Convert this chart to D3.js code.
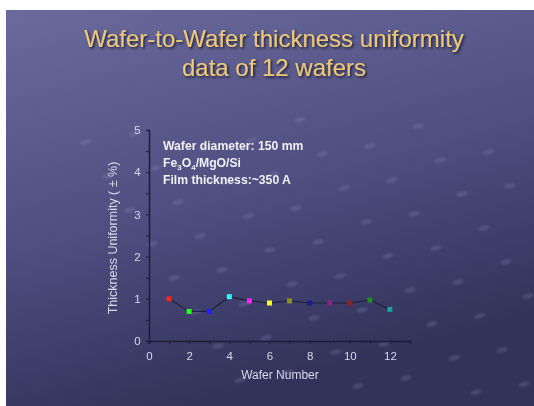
<!DOCTYPE html>
<meta charset="utf-8"/>
<title>Wafer-to-Wafer thickness uniformity</title>
<script src="https://d3js.org/d3.v7.min.js"></script>
<style>
  body { margin: 0; background: #fff; }
  svg { display: block; font-family: Arial, 'Liberation Sans', sans-serif; }
</style>
<svg width="534" height="406"></svg>
<script>
  // data
  const wafers = [1, 2, 3, 4, 5, 6, 7, 8, 9, 10, 11, 12];
  const uniformity = [1.0, 0.7, 0.7, 1.05, 0.95, 0.9, 0.95, 0.9, 0.9, 0.9, 0.97, 0.75];
  const markerColors = ['#ff2020', '#20ff20', '#2020ff', '#20ffff', '#ff20ff', '#ffff20',
                        '#909020', '#1a1a90', '#902090', '#902020', '#209020', '#20a0a0'];
  const xTicks = [0, 2, 4, 6, 8, 10, 12];
  const yTicks = [0, 1, 2, 3, 4, 5];
  const titleLines = ['Wafer-to-Wafer thickness uniformity', 'data of 12 wafers'];

  const svg = d3.select('svg');
  const defs = svg.append('defs');

  const bg = defs.append('linearGradient').attr('id', 'bg')
    .attr('x1', 0).attr('y1', 0).attr('x2', 0.35).attr('y2', 1);
  bg.append('stop').attr('offset', '0%').attr('stop-color', '#6a6a9c');
  bg.append('stop').attr('offset', '55%').attr('stop-color', '#4e4e80');
  bg.append('stop').attr('offset', '100%').attr('stop-color', '#32325a');

  const blur = defs.append('filter').attr('id', 'soft');
  blur.append('feGaussianBlur').attr('stdDeviation', 1.3);
  const glow = defs.append('filter').attr('id', 'glow');
  glow.append('feGaussianBlur').attr('stdDeviation', 0.6);
  const shadow = defs.append('filter').attr('id', 'shadow');
  shadow.append('feDropShadow').attr('dx', 1.5).attr('dy', 1.5)
    .attr('stdDeviation', 0.8).attr('flood-color', '#151530').attr('flood-opacity', 0.9);

  // slide background
  svg.append('rect').attr('x', 6).attr('y', 10).attr('width', 528).attr('height', 396)
    .attr('fill', 'url(#bg)');

  // faint droplets in diagonal rows
  const drops = svg.append('g').attr('filter', 'url(#soft)');
  for (let r = -6; r < 14; r++) {
    for (let c = 0; c < 12; c++) {
      const x = 20 + c * 48 + r * 22;
      const y = 40 + r * 34 - c * 14 + (c % 2) * 6;
      if (x < 10 || x > 530 || y < 120 || y > 402) continue;
      drops.append('ellipse').attr('cx', x).attr('cy', y).attr('rx', 6).attr('ry', 2.5)
        .attr('transform', `rotate(-12,${x},${y})`)
        .attr('fill', '#9a9ac8').attr('opacity', 0.22);
    }
  }

  // title
  svg.append('g').selectAll('text').data(titleLines).join('text')
    .attr('x', 274).attr('y', (d, i) => 47 + i * 29)
    .attr('text-anchor', 'middle')
    .attr('font-size', 24)
    .attr('fill', '#ecc878')
    .attr('filter', 'url(#shadow)')
    .text(d => d);

  const x = d3.scaleLinear().domain([0, 13]).range([149, 410]);
  const y = d3.scaleLinear().domain([0, 5]).range([341, 130]);

  const axisColor = '#1c1c3a';
  const labelColor = '#d8d8e8';

  const xAxis = svg.append('g').attr('transform', `translate(0,${y(0)})`)
    .call(d3.axisBottom(x).tickValues(d3.range(0, 14)).tickSize(3)
      .tickFormat(d => xTicks.includes(d) ? d : ''));
  const yAxis = svg.append('g').attr('transform', `translate(${x(0)},0)`)
    .call(d3.axisLeft(y).tickValues(d3.range(0, 5.01, 0.5)).tickSize(3)
      .tickFormat(d => yTicks.includes(d) ? d : ''));
  [xAxis, yAxis].forEach(g => {
    g.select('.domain').attr('stroke', axisColor).attr('stroke-width', 1.5);
    g.selectAll('.tick line').attr('stroke', axisColor);
    g.selectAll('.tick text').attr('fill', labelColor).attr('font-size', 11.5)
      .attr('font-family', 'Arial, Liberation Sans, sans-serif');
  });
  xAxis.selectAll('.tick text').attr('dy', '1.1em');
  yAxis.selectAll('.tick text').attr('dx', '-0.2em');

  // axis titles
  svg.append('text').attr('x', 280).attr('y', 379).attr('text-anchor', 'middle')
    .attr('font-size', 12).attr('fill', labelColor).text('Wafer Number');
  svg.append('text').attr('transform', 'translate(117,238) rotate(-90)')
    .attr('text-anchor', 'middle').attr('font-size', 12.5).attr('fill', labelColor)
    .text('Thickness Uniformity ( \u00b1 %)');

  // annotation
  const note = svg.append('g').attr('fill', '#f0f0f8').attr('font-size', 12.2)
    .attr('font-weight', 'bold');
  note.append('text').attr('x', 163).attr('y', 150).text('Wafer diameter: 150 mm');
  const f = note.append('text').attr('x', 163).attr('y', 167);
  f.append('tspan').text('Fe');
  f.append('tspan').attr('font-size', 8).attr('dy', 3).text('3');
  f.append('tspan').attr('dy', -3).text('O');
  f.append('tspan').attr('font-size', 8).attr('dy', 3).text('4');
  f.append('tspan').attr('dy', -3).text('/MgO/Si');
  note.append('text').attr('x', 163).attr('y', 184).text('Film thickness:~350 A');

  // series
  const pts = wafers.map((w, i) => ({ w, v: uniformity[i], c: markerColors[i] }));
  svg.append('path').datum(pts)
    .attr('fill', 'none').attr('stroke', '#20203a').attr('stroke-width', 1.2)
    .attr('d', d3.line().x(d => x(d.w)).y(d => y(d.v)));
  svg.append('g').attr('filter', 'url(#glow)').selectAll('rect').data(pts).join('rect')
    .attr('x', d => x(d.w) - 2.5).attr('y', d => y(d.v) - 2.5)
    .attr('width', 5).attr('height', 5).attr('fill', d => d.c);
</script>
